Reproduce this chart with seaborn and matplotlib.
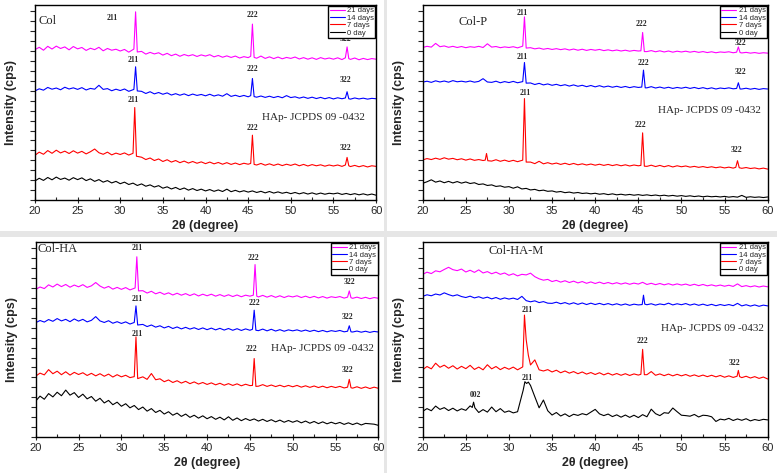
import numpy as np
import pandas as pd
import seaborn as sns
import matplotlib.pyplot as plt
from matplotlib.patches import Rectangle

# sampling grid of the baselines (2theta, degree)
two_theta = np.arange(20, 60.01, 0.5)
days = ['21 days', '14 days', '7 days', '0 day']
colors = ['#ff00ff', '#0000ff', '#ff0000', '#000000']

# ---- Col ----
col_21 = [77.2, 78.4, 76.9, 78.9, 77.5, 79.0, 77.8, 78.6, 77.1, 78.8,
          77.6, 78.3, 76.8, 77.9, 77.2, 78.4, 76.6, 77.8, 76.9, 77.4,
          76.5, 77.3, 75.9, 76.8, 75.2, 76.3, 74.9, 75.8, 75.0, 75.6,
          74.4, 75.3, 74.1, 74.9, 73.8, 74.7, 74.0, 74.6, 73.7, 74.5,
          73.9, 74.6, 73.5, 74.2, 73.3, 74.0, 73.2, 73.9, 72.9, 73.6,
          73.1, 73.3, 72.8, 73.9, 72.7, 73.5, 72.6, 73.4, 72.5, 73.2,
          72.7, 73.4, 72.4, 73.1, 72.3, 73.0, 72.2, 73.1, 72.4, 72.9,
          72.3, 73.0, 72.1, 72.8, 72.2, 72.9, 72.0, 72.7, 72.1, 72.6,
          72.3]
col_21_pk_x = [31.6, 31.8, 32.0, 45.3, 45.5, 45.7, 56.4, 56.6, 56.8]
col_21_pk_y = [77.5, 96.6, 76.0, 73.8, 90.3, 73.2, 73.0, 78.6, 72.6]

col_14 = [56.0, 57.1, 56.4, 57.8, 56.9, 57.5, 56.6, 57.9, 57.0, 57.6,
          56.8, 57.7, 56.5, 57.3, 56.9, 58.9, 56.8, 57.2, 56.1, 56.9,
          56.2, 57.0, 55.8, 56.5, 55.1, 55.8, 54.7, 55.6, 54.5, 55.2,
          54.3, 55.0, 53.9, 54.6, 53.8, 54.5, 53.6, 54.4, 53.7, 54.2,
          53.5, 54.3, 53.4, 54.0, 53.3, 54.6, 53.2, 53.8, 53.1, 53.7,
          53.0, 53.5, 52.8, 53.4, 52.7, 53.3, 52.6, 53.2, 52.5, 53.6,
          52.6, 53.0, 52.3, 52.9, 52.2, 52.8, 52.1, 52.7, 52.0, 52.6,
          51.9, 52.5, 52.0, 52.6, 51.8, 52.4, 51.9, 52.3, 51.8, 52.2,
          52.0]
col_14_pk_x = [31.6, 31.8, 32.0, 45.3, 45.5, 45.7, 56.4, 56.6, 56.8]
col_14_pk_y = [56.8, 68.4, 56.0, 53.6, 62.4, 53.1, 52.4, 55.6, 52.0]

col_7 = [23.0, 24.6, 23.5, 25.4, 24.0, 25.6, 24.2, 25.1, 23.9, 25.3,
         24.1, 25.0, 23.7, 24.8, 26.2, 24.3, 23.5, 24.6, 23.2, 24.1,
         23.4, 24.2, 23.1, 23.9, 21.5, 22.0, 20.8, 21.6, 20.3, 21.1,
         19.8, 20.7, 19.5, 20.3, 19.2, 20.0, 19.0, 19.8, 18.9, 19.6,
         18.7, 19.5, 18.6, 19.3, 18.4, 19.2, 18.3, 19.0, 18.2, 18.9,
         18.4, 18.6, 18.0, 18.8, 17.9, 18.6, 17.8, 18.5, 17.7, 18.4,
         17.8, 18.5, 17.6, 18.3, 17.5, 18.2, 17.6, 18.1, 17.4, 18.0,
         17.5, 18.0, 17.3, 17.9, 17.2, 17.8, 17.1, 17.7, 17.0, 17.6,
         17.3]
col_7_pk_x = [31.5, 31.7, 31.9, 45.3, 45.5, 45.7, 56.4, 56.6, 56.8]
col_7_pk_y = [24.0, 47.5, 22.5, 18.8, 33.3, 18.3, 18.0, 21.9, 17.6]

col_0 = [9.8, 11.2, 10.1, 11.6, 10.4, 11.8, 10.6, 11.3, 10.2, 11.5,
         10.5, 11.4, 10.0, 10.9, 9.6, 10.5, 9.2, 10.0, 8.8, 9.6,
         8.4, 9.2, 8.0, 8.7, 7.5, 8.3, 7.1, 7.8, 6.7, 7.4,
         6.1, 6.8, 5.7, 6.5, 5.4, 6.2, 5.1, 5.9, 4.9, 5.6,
         4.7, 5.4, 4.5, 5.2, 4.4, 5.6, 4.3, 5.0, 4.2, 4.8,
         4.1, 4.7, 3.9, 4.5, 3.7, 4.4, 3.6, 4.2, 3.5, 4.0,
         3.3, 3.9, 3.2, 3.8, 3.1, 3.7, 3.0, 3.6, 3.0, 3.5,
         3.2, 3.6, 2.9, 3.4, 2.8, 3.3, 2.7, 3.2, 2.6, 3.1,
         2.5]

# ---- Col-P ----
colp_21 = [78.3, 78.9, 78.5, 80.4, 78.7, 79.1, 78.4, 78.9, 78.3, 78.8,
           78.2, 78.7, 78.4, 78.9, 78.3, 80.2, 78.5, 78.8, 78.2, 78.6,
           78.3, 78.7, 78.1, 78.5, 77.8, 78.2, 77.6, 78.0, 77.4, 77.8,
           77.3, 77.7, 77.2, 77.6, 77.0, 77.5, 76.9, 77.4, 76.8, 77.3,
           76.9, 77.3, 76.7, 77.1, 76.6, 77.0, 76.5, 76.9, 76.4, 76.8,
           76.5, 76.7, 76.2, 76.7, 76.1, 76.6, 76.0, 76.5, 75.9, 76.4,
           76.0, 76.4, 75.9, 76.3, 75.8, 76.2, 75.7, 76.1, 75.6, 76.0,
           75.8, 76.1, 75.6, 75.9, 75.5, 75.8, 75.4, 75.7, 75.3, 75.6,
           75.4]
colp_21_pk_x = [31.6, 31.8, 32.0, 45.3, 45.5, 45.7, 56.4, 56.6, 56.8]
colp_21_pk_y = [79.0, 94.0, 78.0, 76.6, 86.0, 76.2, 75.9, 78.6, 75.7]

colp_14 = [60.5, 61.0, 60.4, 61.2, 60.6, 61.1, 60.5, 61.3, 60.7, 61.0,
           60.6, 61.1, 60.5, 60.9, 62.3, 60.6, 60.4, 61.0, 60.2, 60.8,
           60.3, 60.9, 60.2, 60.6, 59.6, 60.1, 59.3, 59.9, 59.1, 59.6,
           58.9, 59.4, 58.7, 59.2, 58.5, 59.1, 58.4, 58.9, 58.2, 58.8,
           58.1, 58.7, 58.0, 58.5, 57.9, 58.4, 57.8, 58.3, 57.7, 58.2,
           57.8, 57.9, 57.6, 58.2, 57.5, 58.0, 57.4, 57.9, 57.3, 57.8,
           57.4, 57.9, 57.3, 57.8, 57.2, 57.7, 57.1, 57.6, 57.0, 57.5,
           57.2, 57.6, 57.1, 57.5, 57.0, 57.4, 56.9, 57.3, 56.8, 57.2,
           57.0]
colp_14_pk_x = [31.6, 31.8, 32.0, 45.4, 45.6, 45.8, 56.4, 56.6, 56.8]
colp_14_pk_y = [60.8, 70.6, 60.0, 58.0, 66.7, 57.6, 57.3, 60.2, 57.0]

colp_7 = [20.6, 21.3, 20.8, 21.5, 20.9, 21.7, 21.0, 21.4, 20.7, 21.2,
          20.5, 21.1, 20.4, 20.8, 20.3, 20.6, 20.0, 20.7, 19.9, 20.5,
          19.8, 20.4, 19.7, 20.2, 18.9, 19.5, 18.7, 19.9, 18.6, 19.2,
          18.5, 19.0, 18.3, 18.9, 18.2, 18.8, 18.1, 18.6, 18.0, 18.5,
          17.9, 18.4, 17.8, 18.3, 17.7, 18.2, 17.6, 18.1, 17.5, 18.0,
          17.6, 17.9, 17.3, 17.9, 17.2, 17.8, 17.1, 17.7, 17.0, 17.6,
          17.1, 17.5, 16.9, 17.3, 16.8, 17.2, 16.7, 17.1, 16.6, 17.0,
          16.5, 16.9, 16.4, 16.8, 16.3, 16.7, 16.2, 16.5, 16.0, 16.4,
          15.9]
colp_7_pk_x = [27.25, 27.4, 27.55, 31.6, 31.8, 32.0, 45.3, 45.5, 45.7, 56.3, 56.5, 56.7]
colp_7_pk_y = [20.5, 23.9, 20.2, 20.5, 52.1, 19.5, 17.8, 34.5, 17.4, 16.8, 20.2, 16.6]

colp_0 = [8.6, 9.4, 10.4, 9.2, 9.8, 8.9, 9.6, 8.8, 9.5, 8.7,
          9.3, 8.5, 8.9, 8.0, 8.3, 7.5, 7.8, 7.0, 7.3, 6.6,
          6.9, 6.1, 6.8, 5.7, 6.0, 5.2, 5.5, 4.8, 5.1, 4.5,
          4.7, 4.1, 4.4, 3.8, 4.1, 3.6, 3.9, 3.4, 3.6, 3.2,
          3.5, 3.0, 3.3, 2.8, 3.2, 2.7, 3.0, 2.6, 2.9, 2.5,
          2.8, 2.4, 2.7, 2.3, 2.6, 2.2, 2.5, 2.1, 2.4, 2.0,
          2.3, 1.9, 2.2, 1.8, 2.1, 1.7, 2.0, 1.7, 1.9, 1.6,
          1.9, 1.5, 1.8, 1.5, 2.4, 1.4, 1.7, 1.4, 1.6, 1.3,
          1.6]

# ---- Col-HA ----
colha_21 = [75.8, 77.0, 76.2, 78.1, 77.0, 78.5, 77.2, 78.3, 76.9, 78.0,
            77.1, 78.2, 76.8, 77.6, 79.3, 77.5, 76.4, 77.3, 75.9, 76.8,
            75.8, 76.7, 75.5, 76.3, 74.3, 75.1, 73.9, 74.8, 73.5, 74.3,
            73.2, 74.0, 72.9, 73.8, 72.8, 73.6, 72.6, 73.5, 72.4, 73.3,
            72.5, 73.3, 72.3, 73.1, 72.2, 73.0, 72.1, 72.9, 72.0, 72.8,
            72.3, 72.6, 71.9, 72.7, 71.8, 72.6, 71.7, 72.5, 71.6, 72.4,
            71.9, 72.5, 71.6, 72.3, 71.5, 72.2, 71.4, 72.1, 71.3, 72.0,
            71.6, 72.1, 71.3, 71.9, 71.2, 71.8, 71.1, 71.7, 71.0, 71.6,
            71.2]
colha_21_pk_x = [31.6, 31.8, 32.0, 45.4, 45.6, 45.8, 56.4, 56.6, 56.8]
colha_21_pk_y = [76.5, 92.5, 75.0, 72.8, 88.5, 72.3, 71.8, 75.0, 71.5]

colha_14 = [58.7, 59.8, 59.0, 60.3, 59.4, 60.8, 59.6, 60.4, 59.2, 60.6,
            59.5, 60.4, 59.1, 59.9, 61.8, 59.6, 58.8, 59.7, 58.4, 59.2,
            58.3, 59.1, 58.0, 58.7, 57.0, 57.8, 56.7, 57.5, 56.4, 57.1,
            56.0, 56.8, 55.7, 56.5, 55.5, 56.3, 55.4, 56.1, 55.2, 56.0,
            55.1, 55.9, 55.0, 55.8, 54.9, 55.7, 54.8, 55.6, 54.7, 55.5,
            54.8, 55.2, 54.6, 55.4, 54.5, 55.3, 54.4, 55.1, 54.3, 55.0,
            54.5, 55.0, 54.3, 54.9, 54.2, 54.8, 54.1, 54.7, 54.0, 54.6,
            54.2, 54.7, 54.0, 54.5, 53.9, 54.4, 53.8, 54.3, 53.7, 54.2,
            53.9]
colha_14_pk_x = [31.5, 31.7, 31.9, 45.3, 45.5, 45.7, 56.4, 56.6, 56.8]
colha_14_pk_y = [58.8, 67.3, 57.5, 55.3, 65.1, 54.8, 54.3, 57.1, 54.0]

colha_7 = [31.3, 32.8, 31.9, 34.6, 32.5, 33.8, 32.0, 33.5, 31.8, 33.2,
           32.1, 33.0, 31.6, 32.7, 31.4, 32.5, 31.2, 32.3, 30.8, 32.0,
           30.9, 31.7, 30.5, 31.4, 30.1, 30.9, 29.6, 32.6, 29.4, 29.9,
           28.4, 29.3, 28.0, 28.9, 27.7, 28.6, 27.4, 28.3, 27.2, 28.0,
           27.0, 27.8, 26.8, 27.6, 26.6, 27.4, 26.5, 27.3, 26.3, 27.1,
           26.4, 26.8, 26.1, 26.9, 26.0, 26.7, 25.9, 26.6, 25.8, 26.5,
           25.8, 26.5, 25.6, 26.3, 25.5, 26.2, 25.4, 26.1, 25.3, 26.0,
           25.4, 26.0, 25.2, 25.9, 25.1, 25.8, 25.0, 25.7, 24.9, 25.6,
           25.0]
colha_7_pk_x = [31.5, 31.7, 31.9, 45.3, 45.5, 45.7, 56.4, 56.6, 56.8]
colha_7_pk_y = [31.0, 51.4, 30.0, 26.5, 40.3, 26.0, 25.6, 29.6, 25.3]

colha_0 = [18.5, 21.0, 19.4, 22.3, 20.6, 23.0, 21.2, 24.1, 21.5, 22.8,
           20.3, 22.0, 19.6, 20.8, 18.4, 19.9, 17.5, 18.8, 16.6, 17.9,
           15.8, 17.1, 15.0, 16.2, 14.1, 15.4, 13.3, 14.6, 12.6, 13.7,
           11.8, 13.0, 11.2, 12.3, 10.6, 11.8, 10.1, 11.2, 9.7, 10.9,
           9.4, 10.5, 9.1, 10.2, 8.8, 10.4, 8.6, 9.8, 8.4, 9.5,
           8.5, 9.3, 8.2, 9.1, 8.0, 8.9, 7.8, 8.7, 7.6, 8.5,
           7.6, 8.4, 7.3, 8.2, 7.1, 8.0, 6.9, 7.8, 6.8, 7.6,
           6.8, 7.5, 6.5, 7.3, 6.4, 7.2, 6.2, 7.0, 6.8, 6.6,
           6.0]

# ---- Col-HA-M ----
colham_21 = [83.5, 84.6, 83.9, 85.3, 84.8, 86.0, 87.1, 85.9, 85.4, 86.2,
             84.7, 85.6, 84.5, 85.8, 84.2, 84.9, 83.8, 84.6, 83.5, 84.2,
             83.0, 83.8, 82.7, 83.5, 83.2, 84.1, 82.3, 81.2, 80.5, 80.9,
             79.8, 80.4, 79.5, 80.2, 79.3, 80.0, 79.1, 79.8, 78.9, 79.6,
             78.8, 79.5, 78.7, 79.3, 78.6, 79.2, 78.5, 79.1, 78.4, 79.0,
             78.5, 79.4, 78.3, 78.9, 78.2, 78.8, 78.1, 78.7, 78.0, 78.6,
             78.0, 78.5, 77.8, 78.4, 77.7, 78.3, 77.6, 78.1, 77.5, 78.0,
             77.4, 77.9, 77.3, 78.6, 77.2, 77.7, 77.1, 77.6, 77.0, 77.5,
             77.1]

colham_14 = [72.2, 73.0, 72.5, 73.4, 72.9, 74.0, 73.1, 72.4, 73.0, 72.1,
             71.6, 72.3, 71.4, 72.0, 71.2, 71.8, 70.9, 71.6, 70.7, 71.4,
             70.8, 71.3, 70.6, 72.2, 70.0, 69.4, 69.9, 69.0, 69.5, 68.7,
             68.6, 69.2, 68.4, 69.0, 68.2, 68.9, 68.1, 68.8, 68.0, 68.7,
             68.0, 68.6, 67.9, 68.5, 67.8, 68.4, 67.7, 68.3, 67.6, 68.2,
             67.8, 68.0, 67.9, 68.4, 67.7, 68.3, 67.9, 68.7, 67.8, 68.4,
             67.9, 68.5, 67.7, 68.3, 67.6, 68.2, 67.5, 68.1, 67.4, 68.0,
             67.5, 68.0, 67.4, 68.6, 67.3, 67.9, 67.2, 67.8, 67.1, 67.7,
             67.3]
colham_14_pk_x = [45.45, 45.6, 45.75]
colham_14_pk_y = [68.0, 72.8, 68.2]

colham_7 = [34.6, 36.2, 35.0, 37.9, 35.8, 36.9, 35.3, 36.6, 34.9, 36.3,
            35.1, 36.8, 34.7, 35.9, 34.5, 37.1, 35.0, 36.2, 34.6, 35.8,
            34.8, 35.9, 34.5, 35.4, 38.0, 37.0, 39.6, 34.5, 33.9, 34.6,
            33.4, 34.3, 33.0, 33.9, 32.8, 33.6, 32.5, 33.4, 32.3, 33.1,
            32.1, 33.0, 31.9, 32.8, 31.8, 32.6, 31.7, 32.5, 31.6, 32.4,
            31.8, 32.1, 32.0, 33.6, 31.7, 32.4, 31.5, 32.3, 31.4, 32.2,
            31.4, 32.1, 31.2, 31.9, 31.1, 31.8, 31.0, 31.7, 30.9, 31.6,
            30.7, 31.4, 30.6, 31.3, 30.5, 31.2, 30.3, 31.0, 30.1, 30.8,
            29.8]
colham_7_pk_x = [31.6, 31.8, 32.0, 32.25, 45.3, 45.5, 45.7, 56.45, 56.6, 56.75]
colham_7_pk_y = [36.0, 62.6, 50.0, 42.0, 32.2, 45.0, 32.0, 31.2, 34.2, 31.0]

colham_0 = [13.2, 14.6, 13.5, 15.9, 14.2, 15.1, 13.6, 14.8, 13.4, 14.5,
            13.7, 16.0, 13.1, 12.6, 14.1, 12.8, 15.4, 13.0, 14.6, 12.7,
            13.4, 12.4, 13.0, 21.5, 27.0, 26.5, 20.7, 15.0, 19.0, 13.5,
            11.3, 12.6, 10.8, 11.9, 10.5, 11.7, 11.1, 12.0, 11.4, 12.8,
            14.2, 11.9, 11.0, 11.8, 10.5, 11.4, 10.2, 11.3, 10.1, 11.2,
            10.0, 11.5, 10.4, 14.3, 12.0, 11.0, 12.5, 12.2, 14.9, 13.0,
            11.2, 11.0, 10.7, 11.6, 10.3, 11.2, 11.0, 10.4, 8.0, 9.2,
            8.8, 9.6, 8.5, 9.3, 8.6, 9.4, 8.3, 9.0, 8.5, 9.1,
            8.8]
colham_0_pk_x = [25.75, 25.9, 26.05, 31.65, 31.85, 32.05, 32.25]
colham_0_pk_y = [15.2, 17.9, 15.0, 24.0, 28.4, 27.5, 28.2]

# peak labels (text, 2theta, intensity)
col_labels = [('211', 29.1, 93.3), ('222', 45.5, 94.9), ('322', 56.4, 82.5),
              ('211', 31.5, 71.8), ('222', 45.5, 67.2), ('322', 56.4, 61.5),
              ('211', 31.5, 51.3), ('222', 45.5, 36.9), ('322', 56.4, 26.7)]
colp_labels = [('211', 31.6, 95.9), ('222', 45.4, 90.3), ('322', 56.8, 80.5),
               ('211', 31.6, 73.3), ('222', 45.6, 70.3), ('322', 56.8, 65.6),
               ('211', 31.9, 54.9), ('222', 45.2, 38.5), ('322', 56.4, 25.6)]
colha_labels = [('211', 31.8, 96.9), ('222', 45.4, 91.8), ('322', 56.6, 79.5),
                ('211', 31.8, 70.8), ('222', 45.5, 68.7), ('322', 56.4, 61.5),
                ('211', 31.8, 52.8), ('222', 45.2, 45.1), ('322', 56.4, 34.4)]
colham_labels = [('211', 32.1, 65.1), ('222', 45.5, 49.2), ('322', 56.2, 37.9),
                 ('211', 32.1, 30.3), ('002', 26.1, 21.5)]


def trace(base, pk_x=(), pk_y=()):
    # baseline points away from the peaks + the peak points, sorted by 2theta
    pk_x = np.asarray(pk_x, dtype=float)
    x, y = [], []
    for g, v in zip(two_theta, base):
        if len(pk_x) == 0 or np.abs(pk_x - g).min() > 0.12:
            x.append(g)
            y.append(v)
    x += list(pk_x)
    y += list(pk_y)
    order = np.argsort(x)
    return np.array(x)[order], np.array(y)[order]


def panel_df(series):
    frames = []
    for name, (x, y) in zip(days, series):
        frames.append(pd.DataFrame({'two_theta': x, 'intensity': y, 'sample': name}))
    return pd.concat(frames, ignore_index=True)


panels = [
    ('Col', (21.5, 91.8), (52.6, 42.6), col_labels,
     [trace(col_21, col_21_pk_x, col_21_pk_y), trace(col_14, col_14_pk_x, col_14_pk_y),
      trace(col_7, col_7_pk_x, col_7_pk_y), trace(col_0)]),
    ('Col-P', (25.8, 91.3), (53.2, 46.2), colp_labels,
     [trace(colp_21, colp_21_pk_x, colp_21_pk_y), trace(colp_14, colp_14_pk_x, colp_14_pk_y),
      trace(colp_7, colp_7_pk_x, colp_7_pk_y), trace(colp_0)]),
    ('Col-HA', (22.6, 96.4), (53.5, 45.6), colha_labels,
     [trace(colha_21, colha_21_pk_x, colha_21_pk_y), trace(colha_14, colha_14_pk_x, colha_14_pk_y),
      trace(colha_7, colha_7_pk_x, colha_7_pk_y), trace(colha_0)]),
    ('Col-HA-M', (30.8, 95.4), (53.6, 55.9), colham_labels,
     [trace(colham_21), trace(colham_14, colham_14_pk_x, colham_14_pk_y),
      trace(colham_7, colham_7_pk_x, colham_7_pk_y), trace(colham_0, colham_0_pk_x, colham_0_pk_y)]),
]

sns.set_style('ticks')
plt.rcParams['font.family'] = ['Liberation Sans', 'DejaVu Sans']

fig = plt.figure(figsize=(7.77, 4.73), dpi=100)
positions = [[0.045, 0.577, 0.439, 0.412], [0.544, 0.577, 0.444, 0.412],
             [0.046, 0.076, 0.441, 0.412], [0.544, 0.076, 0.444, 0.412]]

# light grey separators between the four panels
fig.add_artist(Rectangle((0, 0.499), 1, 0.012, transform=fig.transFigure,
                         facecolor='#e6e6e6', edgecolor='none', zorder=-1))
fig.add_artist(Rectangle((0.494, 0), 0.004, 1, transform=fig.transFigure,
                         facecolor='#e6e6e6', edgecolor='none', zorder=-1))

for pos, (name, name_xy, hap_xy, labels, series) in zip(positions, panels):
    ax = fig.add_axes(pos)
    df = panel_df(series)
    sns.lineplot(data=df, x='two_theta', y='intensity', hue='sample', hue_order=days,
                 palette=colors, estimator=None, linewidth=0.8, ax=ax)
    ax.set_xlim(20, 60)
    ax.set_ylim(0, 100)
    ax.set_xticks(range(20, 61, 5))
    ax.set_xticks(np.arange(22.5, 60, 5), minor=True)
    ax.set_yticks(np.arange(0, 101, 5.1))
    ax.set_yticklabels([])
    ax.tick_params(axis='x', which='major', direction='inout', length=4, width=0.8,
                   labelsize=8, pad=2)
    ax.tick_params(axis='x', which='minor', direction='in', length=2.5, width=0.8)
    ax.tick_params(axis='y', direction='out', length=3.5, width=0.8)
    for s in ax.spines.values():
        s.set_linewidth(1.0)
        s.set_color('black')
    ax.set_xlabel('2θ (degree)', fontsize=9, fontweight='bold', labelpad=3)
    ax.set_ylabel('Intensity (cps)', fontsize=9, fontweight='bold', labelpad=6)

    ax.text(name_xy[0], name_xy[1], name, family='Liberation Serif', fontsize=9,
            ha='center', va='center')
    ax.text(hap_xy[0], hap_xy[1], 'HAp- JCPDS 09 -0432', family='Liberation Serif',
            fontsize=8, ha='center', va='center')
    for t, x, y in labels:
        ax.text(x, y, t, family='Liberation Serif', fontsize=5.5, fontweight='bold',
                ha='center', va='center')

    handles, labs = ax.get_legend_handles_labels()
    ax.legend(handles, labs, loc='upper right', fontsize=5.5, frameon=True, fancybox=False,
              edgecolor='black', framealpha=1, borderpad=0.15, labelspacing=0.0,
              handlelength=2.0, handletextpad=0.3, borderaxespad=0.1)

fig.savefig('out.png', dpi=100)
